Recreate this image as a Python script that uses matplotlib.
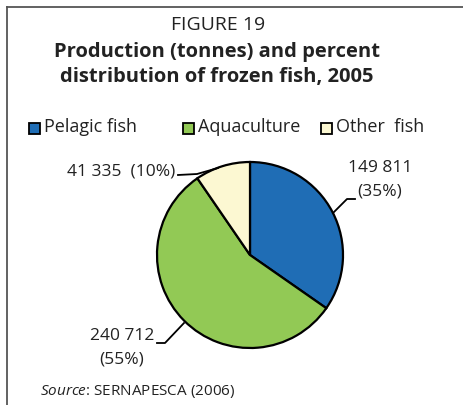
import matplotlib.pyplot as plt
from matplotlib.patches import Rectangle

plt.rcParams['font.family'] = 'Open Sans'
plt.rcParams['mathtext.fontset'] = 'custom'
plt.rcParams['mathtext.rm'] = 'Open Sans'
plt.rcParams['mathtext.it'] = 'Open Sans:italic'

# data
categories = ['Pelagic fish', 'Aquaculture', 'Other  fish']
production = [149811, 240712, 41335]
value_labels = ['149 811', '240 712', '41 335']
percent_labels = ['(35%)', '(55%)', '(10%)']
colors = ['#1f6db5', '#92c955', '#fcf8d2']

W, H = 463, 405
TXT = '#222222'


def Y(y):
    # pixel row (from top) -> data y
    return H - y


fig = plt.figure(figsize=(W / 100, H / 100), dpi=100)
ax = fig.add_axes([0, 0, 1, 1])

wedges, _ = ax.pie(production, colors=colors, startangle=90, counterclock=False,
                   center=(250, Y(255)), radius=93,
                   wedgeprops=dict(edgecolor='black', linewidth=1.6))

ax.set_xlim(0, W)
ax.set_ylim(0, H)
ax.set_aspect('equal')
ax.axis('off')

# frame (top and left only)
ax.plot([7, W], [Y(7), Y(7)], color='#555555', lw=1.3, clip_on=False)
ax.plot([7, 7], [Y(7), 0], color='#555555', lw=1.3, clip_on=False)

# titles
ax.text(218, Y(25), 'FIGURE 19', ha='center', va='center', fontsize=14, color=TXT)
ax.text(217, Y(52), 'Production (tonnes) and percent', ha='center', va='center',
        fontsize=14.5, fontweight='bold', color=TXT)
ax.text(217, Y(77), 'distribution of frozen fish, 2005', ha='center', va='center',
        fontsize=14.5, fontweight='bold', color=TXT)

# legend
leg_x = [29, 183, 321]
for x, lab, c in zip(leg_x, categories, colors):
    ax.add_patch(Rectangle((x, Y(134)), 11, 11, facecolor=c, edgecolor='black', lw=1.3))
    ax.text(x + 15, Y(127), lab, ha='left', va='center', fontsize=13, color=TXT)

# value labels with leader lines
ax.text(380, Y(168), value_labels[0], ha='center', va='center', fontsize=12.5, color=TXT)
ax.text(380, Y(192), percent_labels[0], ha='center', va='center', fontsize=12.5, color=TXT)
ax.plot([333, 347, 355], [Y(213), Y(199), Y(199)], color='black', lw=1.3)

ax.text(122, Y(336), value_labels[1], ha='center', va='center', fontsize=12.5, color=TXT)
ax.text(122, Y(359), percent_labels[1], ha='center', va='center', fontsize=12.5, color=TXT)
ax.plot([157, 165, 184], [Y(343), Y(343), Y(323)], color='black', lw=1.3)

ax.text(175, Y(171), value_labels[2] + '  ' + percent_labels[2], ha='right', va='center',
        fontsize=12.5, color=TXT)
ax.plot([178, 197, 218], [Y(175), Y(174), Y(168)], color='black', lw=1.3)

# source
ax.text(40, Y(392), r'$\it{Source}$: SERNAPESCA (2006)', ha='left', va='center',
        fontsize=11, color=TXT)

fig.savefig('out.png', dpi=100)
